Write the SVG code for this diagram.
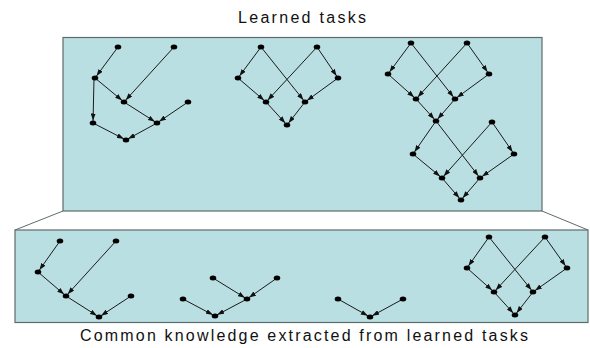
<svg xmlns="http://www.w3.org/2000/svg" xmlns:xlink="http://www.w3.org/1999/xlink" width="590" height="348" viewBox="0 0 590 348">
<style>
.panel{fill:#b9dfe2;stroke:#5f6b6b;stroke-width:1.2}
.side{fill:none;stroke:#5f6b6b;stroke-width:1}
.e{stroke:#1a1a1a;stroke-width:1;fill:none;marker-end:url(#ah)}
.lbl{font-family:"Liberation Sans",Arial,sans-serif;font-size:16px;fill:#111}
</style>
<defs>
<marker id="ah" viewBox="0 0 7 5" refX="9.5" refY="2.5" markerWidth="7" markerHeight="5" orient="auto" markerUnits="userSpaceOnUse">
<path d="M0,0 L7,2.5 L0,5 z" fill="#111"/>
</marker>
<ellipse id="dot" cx="0" cy="0" rx="3.3" ry="2.5" fill="#000"/>
</defs>
<rect width="590" height="348" fill="#fff"/>
<text class="lbl" x="302" y="23" text-anchor="middle" textLength="128" lengthAdjust="spacing">Learned tasks</text>
<rect class="panel" x="63" y="37.5" width="479" height="173.5"/>
<polyline class="side" points="63,211 15,230"/>
<polyline class="side" points="542,211 588,230"/>
<rect class="panel" x="15" y="230" width="573" height="92.5"/>
<text class="lbl" x="304" y="341" text-anchor="middle" textLength="448" lengthAdjust="spacing">Common knowledge extracted from learned tasks</text>
<g id="connectors">
<line class="e" x1="118" y1="47" x2="95" y2="78"/>
<line class="e" x1="174" y1="47" x2="124" y2="102"/>
<line class="e" x1="95" y1="78" x2="124" y2="102"/>
<line class="e" x1="94" y1="78" x2="93" y2="123"/>
<line class="e" x1="124" y1="102" x2="157" y2="123"/>
<line class="e" x1="188" y1="102" x2="157" y2="123"/>
<line class="e" x1="93" y1="123" x2="126" y2="140"/>
<line class="e" x1="157" y1="123" x2="126" y2="140"/>
<line class="e" x1="261" y1="47" x2="238" y2="78"/>
<line class="e" x1="261" y1="47" x2="305" y2="102"/>
<line class="e" x1="317" y1="47" x2="266" y2="102"/>
<line class="e" x1="317" y1="47" x2="338" y2="78"/>
<line class="e" x1="238" y1="78" x2="266" y2="102"/>
<line class="e" x1="338" y1="78" x2="305" y2="102"/>
<line class="e" x1="266" y1="102" x2="287" y2="125"/>
<line class="e" x1="305" y1="102" x2="287" y2="125"/>
<line class="e" x1="411" y1="43" x2="388" y2="74"/>
<line class="e" x1="411" y1="43" x2="455" y2="99"/>
<line class="e" x1="467" y1="43" x2="416" y2="99"/>
<line class="e" x1="467" y1="43" x2="489" y2="74"/>
<line class="e" x1="388" y1="74" x2="416" y2="99"/>
<line class="e" x1="489" y1="74" x2="455" y2="99"/>
<line class="e" x1="416" y1="99" x2="436" y2="121"/>
<line class="e" x1="455" y1="99" x2="436" y2="121"/>
<line class="e" x1="436" y1="121" x2="413" y2="154"/>
<line class="e" x1="436" y1="121" x2="480" y2="178"/>
<line class="e" x1="492" y1="122" x2="442" y2="178"/>
<line class="e" x1="492" y1="122" x2="514" y2="154"/>
<line class="e" x1="413" y1="154" x2="442" y2="178"/>
<line class="e" x1="514" y1="154" x2="480" y2="178"/>
<line class="e" x1="442" y1="178" x2="461" y2="200"/>
<line class="e" x1="480" y1="178" x2="461" y2="200"/>
<line class="e" x1="60" y1="241" x2="38" y2="272"/>
<line class="e" x1="116" y1="241" x2="66" y2="296"/>
<line class="e" x1="38" y1="272" x2="66" y2="296"/>
<line class="e" x1="66" y1="296" x2="99" y2="317"/>
<line class="e" x1="131" y1="296" x2="99" y2="317"/>
<line class="e" x1="213" y1="278" x2="247" y2="299"/>
<line class="e" x1="277" y1="278" x2="247" y2="299"/>
<line class="e" x1="183" y1="299" x2="215" y2="316"/>
<line class="e" x1="247" y1="299" x2="215" y2="316"/>
<line class="e" x1="338" y1="299" x2="370" y2="317"/>
<line class="e" x1="403" y1="299" x2="370" y2="317"/>
<line class="e" x1="489" y1="237" x2="467" y2="268"/>
<line class="e" x1="489" y1="237" x2="533" y2="292"/>
<line class="e" x1="545" y1="237" x2="494" y2="292"/>
<line class="e" x1="545" y1="237" x2="567" y2="268"/>
<line class="e" x1="467" y1="268" x2="494" y2="292"/>
<line class="e" x1="567" y1="268" x2="533" y2="292"/>
<line class="e" x1="494" y1="292" x2="515" y2="315"/>
<line class="e" x1="533" y1="292" x2="515" y2="315"/>
</g>
<g id="t1a"><use xlink:href="#dot" x="118" y="47"/></g>
<g id="t1b"><use xlink:href="#dot" x="174" y="47"/></g>
<g id="t1c"><use xlink:href="#dot" x="95" y="78"/></g>
<g id="t1d"><use xlink:href="#dot" x="124" y="102"/></g>
<g id="t1e"><use xlink:href="#dot" x="188" y="102"/></g>
<g id="t1f"><use xlink:href="#dot" x="93" y="123"/></g>
<g id="t1g"><use xlink:href="#dot" x="157" y="123"/></g>
<g id="t1h"><use xlink:href="#dot" x="126" y="140"/></g>
<g id="t2a"><use xlink:href="#dot" x="261" y="47"/></g>
<g id="t2b"><use xlink:href="#dot" x="317" y="47"/></g>
<g id="t2c"><use xlink:href="#dot" x="238" y="78"/></g>
<g id="t2d"><use xlink:href="#dot" x="338" y="78"/></g>
<g id="t2e"><use xlink:href="#dot" x="266" y="102"/></g>
<g id="t2f"><use xlink:href="#dot" x="305" y="102"/></g>
<g id="t2g"><use xlink:href="#dot" x="287" y="125"/></g>
<g id="t3a"><use xlink:href="#dot" x="411" y="43"/></g>
<g id="t3b"><use xlink:href="#dot" x="467" y="43"/></g>
<g id="t3c"><use xlink:href="#dot" x="388" y="74"/></g>
<g id="t3d"><use xlink:href="#dot" x="489" y="74"/></g>
<g id="t3e"><use xlink:href="#dot" x="416" y="99"/></g>
<g id="t3f"><use xlink:href="#dot" x="455" y="99"/></g>
<g id="t3g"><use xlink:href="#dot" x="436" y="121"/></g>
<g id="t3h"><use xlink:href="#dot" x="492" y="122"/></g>
<g id="t3i"><use xlink:href="#dot" x="413" y="154"/></g>
<g id="t3j"><use xlink:href="#dot" x="514" y="154"/></g>
<g id="t3k"><use xlink:href="#dot" x="442" y="178"/></g>
<g id="t3l"><use xlink:href="#dot" x="480" y="178"/></g>
<g id="t3m"><use xlink:href="#dot" x="461" y="200"/></g>
<g id="b1a"><use xlink:href="#dot" x="60" y="241"/></g>
<g id="b1b"><use xlink:href="#dot" x="116" y="241"/></g>
<g id="b1c"><use xlink:href="#dot" x="38" y="272"/></g>
<g id="b1d"><use xlink:href="#dot" x="66" y="296"/></g>
<g id="b1e"><use xlink:href="#dot" x="131" y="296"/></g>
<g id="b1f"><use xlink:href="#dot" x="99" y="317"/></g>
<g id="b2a"><use xlink:href="#dot" x="213" y="278"/></g>
<g id="b2b"><use xlink:href="#dot" x="277" y="278"/></g>
<g id="b2c"><use xlink:href="#dot" x="183" y="299"/></g>
<g id="b2d"><use xlink:href="#dot" x="247" y="299"/></g>
<g id="b2e"><use xlink:href="#dot" x="215" y="316"/></g>
<g id="b3a"><use xlink:href="#dot" x="338" y="299"/></g>
<g id="b3b"><use xlink:href="#dot" x="403" y="299"/></g>
<g id="b3c"><use xlink:href="#dot" x="370" y="317"/></g>
<g id="b4a"><use xlink:href="#dot" x="489" y="237"/></g>
<g id="b4b"><use xlink:href="#dot" x="545" y="237"/></g>
<g id="b4c"><use xlink:href="#dot" x="467" y="268"/></g>
<g id="b4d"><use xlink:href="#dot" x="567" y="268"/></g>
<g id="b4e"><use xlink:href="#dot" x="494" y="292"/></g>
<g id="b4f"><use xlink:href="#dot" x="533" y="292"/></g>
<g id="b4g"><use xlink:href="#dot" x="515" y="315"/></g>
</svg>
